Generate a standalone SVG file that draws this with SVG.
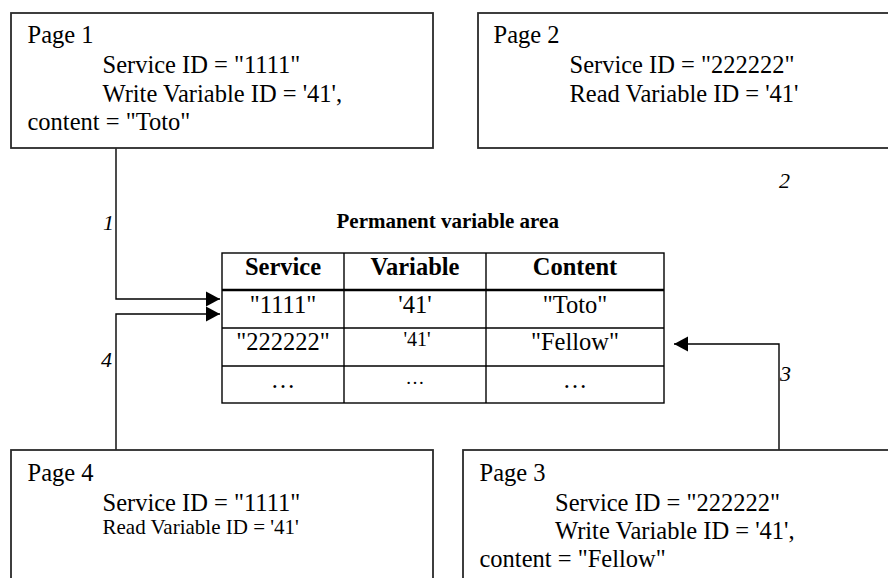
<svg xmlns="http://www.w3.org/2000/svg" width="888" height="578" viewBox="0 0 888 578">
<style>
.box{fill:#fff;stroke:#2a2a2a;stroke-width:1.8}
.t{font-family:"Liberation Serif","Times New Roman",serif;font-size:24.5px;fill:#000}
.s{font-size:21px}
.b{font-weight:bold}
.c{text-anchor:middle}
.lbl{font-family:"Liberation Serif","Times New Roman",serif;font-style:italic;font-size:22px;fill:#000}
.tl{stroke:#000;stroke-width:1.4;fill:none}
.conn{stroke:#000;stroke-width:1.4;fill:none;marker-end:url(#arr)}
</style>
<defs>
<marker id="arr" markerUnits="userSpaceOnUse" markerWidth="16" markerHeight="16" viewBox="0 0 14 16" refX="14" refY="8" orient="auto">
<path d="M0,0.5 L14,8 L0,15.5 Z" fill="#000"/>
</marker>
</defs>
<rect width="888" height="578" fill="#fff"/>

<g id="connectors">
<path class="conn" d="M116,148 V299 H220"/>
<path class="conn" d="M116,450 V314 H220"/>
<path class="conn" d="M779,450 V344 H674"/>
<text class="lbl" x="103" y="230">1</text>
<text class="lbl" x="779" y="188">2</text>
<text class="lbl" x="780" y="381">3</text>
<text class="lbl" x="101" y="367">4</text>
</g>

<g id="page1">
<rect class="box" x="11" y="13" width="422" height="135"/>
<text class="t" x="27.5" y="43">Page 1</text>
<text class="t" x="102.5" y="73">Service ID = "1111"</text>
<text class="t" x="102.5" y="102">Write Variable ID = '41',</text>
<text class="t" x="27.5" y="130">content = "Toto"</text>
</g>

<g id="page2">
<rect class="box" x="478" y="13" width="420" height="135"/>
<text class="t" x="493.5" y="43">Page 2</text>
<text class="t" x="569.5" y="73">Service ID = "222222"</text>
<text class="t" x="569.5" y="102">Read Variable ID = '41'</text>
</g>

<g id="page3">
<rect class="box" x="463" y="450" width="440" height="140"/>
<text class="t" x="479.5" y="481">Page 3</text>
<text class="t" x="555" y="511">Service ID = "222222"</text>
<text class="t" x="555" y="539">Write Variable ID = '41',</text>
<text class="t" x="479.5" y="567">content = "Fellow"</text>
</g>

<g id="page4">
<rect class="box" x="11" y="450" width="422" height="140"/>
<text class="t" x="27.5" y="481">Page 4</text>
<text class="t" x="102.5" y="511">Service ID = "1111"</text>
<text class="t s" x="102.5" y="534">Read Variable ID = '41'</text>
</g>

<g id="variable-area">
<text class="t b" x="336.5" y="228" style="font-size:21px">Permanent variable area</text>
<rect class="tl" x="222" y="253" width="442" height="150"/>
<line class="tl" x1="344" y1="253" x2="344" y2="403"/>
<line class="tl" x1="486" y1="253" x2="486" y2="403"/>
<line x1="222" y1="290" x2="664" y2="290" stroke="#000" stroke-width="2.4"/>
<line class="tl" x1="222" y1="328" x2="664" y2="328"/>
<line class="tl" x1="222" y1="366" x2="664" y2="366"/>
<text class="t b c" x="283" y="275">Service</text>
<text class="t b c" x="415" y="275">Variable</text>
<text class="t b c" x="575" y="275">Content</text>
<text class="t c" x="283" y="312.5">"1111"</text>
<text class="t c" x="415" y="312.5">'41'</text>
<text class="t c" x="575" y="312.5">"Toto"</text>
<text class="t c" x="283" y="350">"222222"</text>
<text class="t c" x="417" y="346" style="font-size:20px">'41'</text>
<text class="t c" x="575" y="350">"Fellow"</text>
<text class="t c" x="283" y="388">…</text>
<text class="t c" x="415" y="384" style="font-size:19px">…</text>
<text class="t c" x="575" y="388">…</text>
</g>
</svg>
